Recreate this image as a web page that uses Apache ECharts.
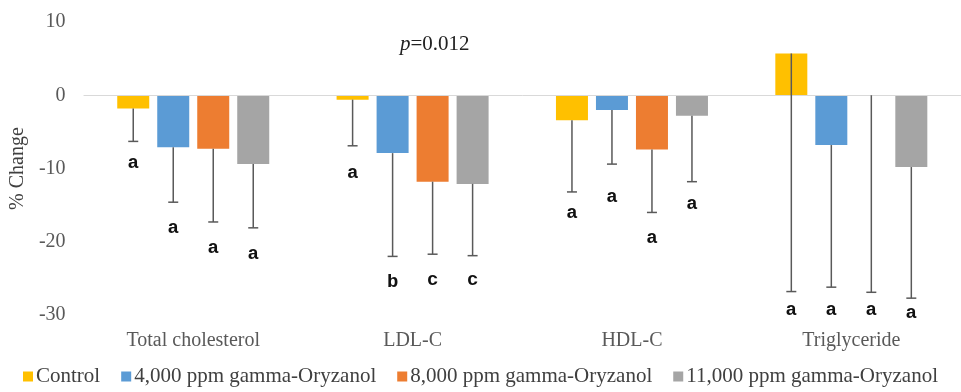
<!DOCTYPE html>
<html>
<head>
<meta charset="utf-8">
<script src="https://cdn.jsdelivr.net/npm/echarts@6/dist/echarts.min.js"></script>
<style>
  html, body { margin: 0; padding: 0; background: #fff; }
  #chart { width: 961px; height: 392px; }
</style>
</head>
<body>
<div id="chart"></div>
<script>
// categories and groups
const categories = ['Total cholesterol', 'LDL-C', 'HDL-C', 'Triglyceride'];
const groupNames = ['Control', '4,000 ppm gamma-Oryzanol', '8,000 ppm gamma-Oryzanol', '11,000 ppm gamma-Oryzanol'];
const groupColors = ['#FFC000', '#5B9BD5', '#ED7D31', '#A5A5A5'];

// mean % change
const control = [-1.8, -0.6, -3.4, 5.7];
const ppm4000 = [-7.1, -7.9, -2.0, -6.8];
const ppm8000 = [-7.3, -11.8, -7.4, 0];
const ppm11000 = [-9.4, -12.1, -2.8, -9.8];

// lower end of error bars
const controlErr = [-6.3, -6.9, -13.2, -26.8];
const ppm4000Err = [-14.6, -22.0, -9.4, -26.2];
const ppm8000Err = [-17.3, -21.7, -16.0, -26.9];
const ppm11000Err = [-18.1, -21.9, -11.8, -27.7];

// significance letters and where they sit
const controlLetters = ['a', 'a', 'a', 'a'];
const ppm4000Letters = ['a', 'b', 'a', 'a'];
const ppm8000Letters = ['a', 'c', 'a', 'a'];
const ppm11000Letters = ['a', 'c', 'a', 'a'];
const controlLetterY = [-9.3, -10.6, -16.1, -29.3];
const ppm4000LetterY = [-18.1, -25.5, -13.9, -29.3];
const ppm8000LetterY = [-20.9, -25.2, -19.5, -29.3];
const ppm11000LetterY = [-21.7, -25.2, -14.9, -29.7];

const yTicks = { min: -30, max: 10, interval: 10 };

const values = [control, ppm4000, ppm8000, ppm11000];
const errs = [controlErr, ppm4000Err, ppm8000Err, ppm11000Err];
const letters = [controlLetters, ppm4000Letters, ppm8000Letters, ppm11000Letters];
const letterY = [controlLetterY, ppm4000LetterY, ppm8000LetterY, ppm11000LetterY];

const BAR_W = 32;
const STEP = 40;
const serif = '"Liberation Serif", "Times New Roman", serif';

let series = [];
values.forEach((vals, k) => {
  series.push({
    name: groupNames[k],
    type: 'bar',
    data: vals,
    barWidth: BAR_W,
    barGap: '25%',
    itemStyle: { color: groupColors[k] },
    z: 2,
    markLine: k === 0 ? {
      silent: true,
      symbol: 'none',
      label: { show: false },
      lineStyle: { color: '#d9d9d9', type: 'solid', width: 1 },
      data: [{ yAxis: 0 }]
    } : undefined
  });
});

values.forEach((vals, k) => {
  series.push({
    name: 'err' + k,
    type: 'custom',
    z: 5,
    data: vals.map((v, i) => [i, v, errs[k][i], letterY[k][i]]),
    renderItem: function (params, api) {
      let i = api.value(0);
      let top = api.coord([i, api.value(1)]);
      let bot = api.coord([i, api.value(2)]);
      let lt = api.coord([i, api.value(3)]);
      let x = top[0] + (k - 1.5) * STEP;
      let style = { stroke: '#595959', lineWidth: 1.5 };
      return {
        type: 'group',
        children: [
          { type: 'line', shape: { x1: x, y1: top[1], x2: x, y2: bot[1] }, style: style },
          { type: 'line', shape: { x1: x - 5, y1: bot[1], x2: x + 5, y2: bot[1] }, style: style },
          {
            type: 'text',
            style: {
              text: letters[k][params.dataIndex],
              x: x, y: lt[1],
              align: 'center', verticalAlign: 'middle',
              font: 'bold 19px "Liberation Mono", "Courier New", monospace',
              fill: '#111'
            }
          }
        ]
      };
    }
  });
});

const myChart = echarts.init(document.getElementById('chart'));
myChart.setOption({
  animation: false,
  grid: { left: 82, right: 0, top: 22, bottom: 77 },
  legend: {
    data: groupNames,
    bottom: 0,
    left: 'center',
    icon: 'rect',
    itemWidth: 10,
    itemHeight: 10,
    itemGap: 21,
    textStyle: { fontFamily: serif, fontSize: 21, color: '#404040', padding: [0, 0, 0, -2] }
  },
  xAxis: {
    type: 'category',
    data: categories,
    axisLine: { show: false, onZero: false },
    axisTick: { show: false },
    axisLabel: { margin: 16, fontFamily: serif, fontSize: 20, color: '#595959' }
  },
  yAxis: {
    type: 'value',
    min: yTicks.min,
    max: yTicks.max,
    interval: yTicks.interval,
    name: '% Change',
    nameLocation: 'middle',
    nameGap: 52,
    nameTextStyle: { fontFamily: serif, fontSize: 20, color: '#404040' },
    axisLine: { show: false },
    axisTick: { show: false },
    splitLine: { show: false },
    axisLabel: { margin: 18, fontFamily: serif, fontSize: 20, color: '#595959' }
  },
  graphic: [{
    type: 'text',
    left: 400,
    top: 34,
    style: {
      text: '{i|p}=0.012',
      font: '21px ' + serif,
      fill: '#222',
      rich: { i: { fontStyle: 'italic', fontFamily: serif, fontSize: 21, fill: '#222' } }
    }
  }],
  series: series
});
window.addEventListener('resize', () => {
  myChart.resize();
});
</script>
</body>
</html>
